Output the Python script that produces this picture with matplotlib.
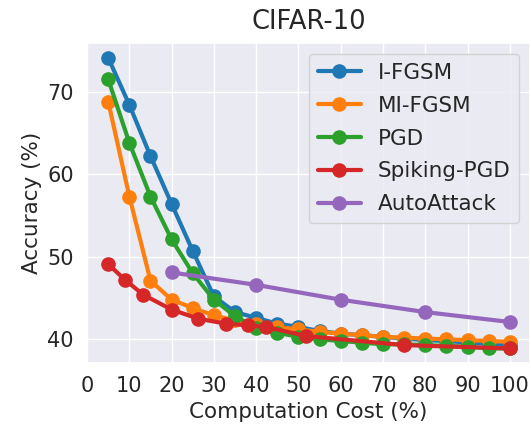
import matplotlib
matplotlib.use("Agg")
import matplotlib.pyplot as plt
import seaborn as sns

# computation cost (%) for the iterative attacks
cost = [5, 10, 15, 20, 25, 30, 35, 40, 45, 50, 55, 60, 65, 70, 75, 80, 85, 90, 95, 100]
ifgsm = [74.1, 68.4, 62.2, 56.4, 50.7, 45.2, 43.3, 42.6, 41.9, 41.5, 41.0, 40.7,
         40.5, 40.3, 40.1, 39.9, 39.8, 39.6, 39.5, 39.3]
mifgsm = [68.8, 57.3, 47.1, 44.8, 43.8, 42.9, 42.3, 41.9, 41.5, 41.2, 40.9, 40.7,
          40.5, 40.3, 40.2, 40.1, 40.0, 39.9, 39.8, 39.7]
pgd = [71.5, 63.8, 57.3, 52.1, 48.0, 44.8, 42.8, 41.4, 40.8, 40.3, 40.0, 39.8,
       39.6, 39.4, 39.4, 39.3, 39.2, 39.1, 38.9, 38.9]

spk_cost = [5, 9, 13.3, 20, 26.3, 32.8, 38, 42.3, 51.8, 75, 100]
spiking_pgd = [49.1, 47.2, 45.4, 43.6, 42.5, 41.9, 41.7, 41.5, 40.4, 39.3, 38.9]

aa_cost = [20, 40, 60, 80, 100]
autoattack = [48.1, 46.6, 44.8, 43.3, 42.1]

sns.set_theme(style="darkgrid", palette="tab10")

fig = plt.figure(figsize=(5.31, 4.29), dpi=100)
ax = fig.add_axes([0.164, 0.154, 0.834, 0.745])

kw = dict(marker='o', linewidth=3, markersize=9.5)
ax.plot(cost, ifgsm, label='I-FGSM', **kw)
ax.plot(cost, mifgsm, label='MI-FGSM', **kw)
ax.plot(cost, pgd, label='PGD', **kw)
ax.plot(spk_cost, spiking_pgd, label='Spiking-PGD', **kw)
ax.plot(aa_cost, autoattack, label='AutoAttack', **kw)

ax.set_xticks(range(0, 101, 10))
ax.set_yticks([40, 50, 60, 70])
ax.tick_params(labelsize=15)
ax.set_xlabel('Computation Cost (%)', fontsize=15.5)
ax.set_ylabel('Accuracy (%)', fontsize=15.5)
ax.set_title('CIFAR-10', fontsize=18.5, pad=10)
ax.legend(loc='upper right', fontsize=15.5, labelspacing=0.6)

fig.savefig('out.png', dpi=100)
